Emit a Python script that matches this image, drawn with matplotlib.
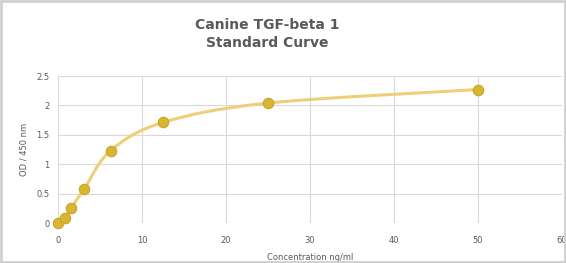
import matplotlib.pyplot as plt
from matplotlib.path import Path
from matplotlib.patches import PathPatch, Rectangle

# standard curve readings
conc = [0, 0.78, 1.5625, 3.125, 6.25, 12.5, 25, 50]
od = [0.0, 0.09, 0.26, 0.58, 1.23, 1.71, 2.04, 2.27]
x_ticks = [0, 10, 20, 30, 40, 50, 60]
y_ticks = [0, 0.5, 1, 1.5, 2, 2.5]
y_tick_labels = ['0', '0.5', '1', '1.5', '2', '2.5']

grid_color = '#d9d9d9'
text_color = '#595959'
line_color = '#eecf78'
marker_color = '#d8b632'
marker_edge = '#c9a328'


def smooth_path(xs, ys, tension=1.0 / 6):
	"""excel-like smoothed line as a bezier path through the points"""
	pts = list(zip(xs, ys))
	verts = [pts[0]]
	codes = [Path.MOVETO]
	for i in range(len(pts) - 1):
		p0 = pts[i - 1] if i > 0 else pts[i]
		p1 = pts[i]
		p2 = pts[i + 1]
		p3 = pts[i + 2] if i + 2 < len(pts) else pts[i + 1]
		c1 = (p1[0] + (p2[0] - p0[0]) * tension, p1[1] + (p2[1] - p0[1]) * tension)
		c2 = (p2[0] - (p3[0] - p1[0]) * tension, p2[1] - (p3[1] - p1[1]) * tension)
		verts += [c1, c2, p2]
		codes += [Path.CURVE4] * 3
	return Path(verts, codes)


fig = plt.figure(figsize=(5.66, 2.63), dpi=100)
fig.patch.set_facecolor('white')
fig.patches.append(Rectangle((0.002, 0.004), 0.996, 0.992, transform=fig.transFigure,
							 fill=False, edgecolor='#cfcfcf', linewidth=2))

ax = fig.add_axes([0.1025, 0.152, 0.8905, 0.559])
ax.set_xlim(0, 60)
ax.set_ylim(0, 2.5)
ax.set_xticks(x_ticks)
ax.set_yticks(y_ticks)
ax.set_yticklabels(y_tick_labels)
ax.grid(True, color=grid_color, linewidth=0.8)
ax.set_axisbelow(True)
for side in ax.spines:
	ax.spines[side].set_visible(False)
ax.tick_params(length=0, labelsize=6, colors=text_color, pad=6)
ax.tick_params(axis='x', pad=9)

curve = PathPatch(smooth_path(conc, od), fill=False, edgecolor=line_color,
				  linewidth=2.2, clip_on=False, zorder=2)
ax.add_patch(curve)
ax.plot(conc, od, linestyle='none', marker='o', markersize=7.5,
		markerfacecolor=marker_color, markeredgecolor=marker_edge,
		markeredgewidth=0.8, clip_on=False, zorder=3)

ax.set_xlabel('Concentration ng/ml', fontsize=6, color=text_color, labelpad=6)
ax.set_ylabel('OD / 450 nm', fontsize=6, color=text_color, labelpad=6)
fig.text(0.472, 0.905, 'Canine TGF-beta 1', ha='center', va='center',
		 fontsize=10, fontweight='bold', color=text_color)
fig.text(0.472, 0.835, 'Standard Curve', ha='center', va='center',
		 fontsize=10, fontweight='bold', color=text_color)

fig.savefig('out.png', dpi=100)
